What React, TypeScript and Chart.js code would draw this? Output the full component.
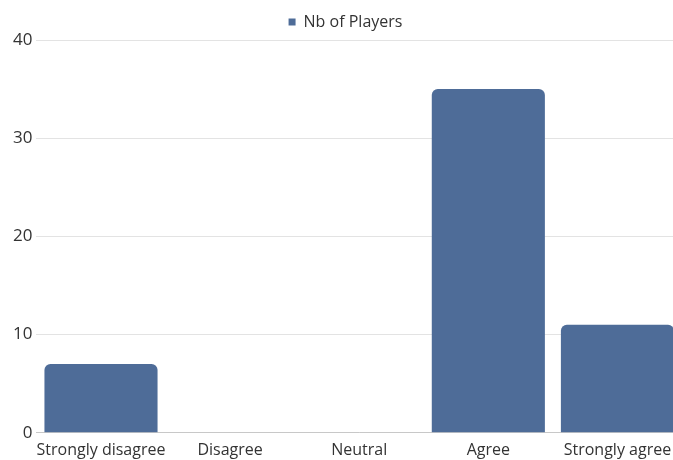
import React, { useEffect, useRef } from "react";
import { Chart, registerables } from "chart.js";

Chart.register(...registerables);

const categories = ["Strongly disagree", "Disagree", "Neutral", "Agree", "Strongly agree"];
const seriesName = "Nb of Players";
const players = [7, 0, 0, 35, 11];
const yTicks = [0, 10, 20, 30, 40];

export default function App() {
  const ref = useRef<HTMLCanvasElement | null>(null);

  useEffect(() => {
    document.body.style.margin = "0";
    document.body.style.overflow = "hidden";
    if (!ref.current) return;
    const font = "'Open Sans', sans-serif";
    const chart = new Chart(ref.current, {
      type: "bar",
      data: {
        labels: categories,
        datasets: [
          {
            label: seriesName,
            data: players,
            backgroundColor: "#4e6c98",
            borderRadius: { topLeft: 6, topRight: 6, bottomLeft: 0, bottomRight: 0 },
            borderSkipped: false,
            barPercentage: 0.876,
            categoryPercentage: 1,
          },
        ],
      },
      options: {
        animation: false,
        responsive: false,
        maintainAspectRatio: false,
        layout: { padding: { top: 4, left: 9, right: 20, bottom: -8 } },
        plugins: {
          legend: {
            position: "top",
            labels: {
              boxWidth: 7,
              boxHeight: 7,
              color: "#333333",
              font: { family: font, size: 16 },
              padding: 10,
            },
          },
          tooltip: { enabled: false },
        },
        scales: {
          x: {
            grid: { display: false, drawTicks: false },
            border: { color: "#c8c8c8" },
            ticks: {
              color: "#333333",
              font: { family: font, size: 16 },
              padding: 8,
              maxRotation: 0,
              autoSkip: false,
            },
          },
          y: {
            min: yTicks[0],
            max: yTicks[yTicks.length - 1],
            afterBuildTicks: (axis: any) => {
              axis.ticks = yTicks.map((v) => ({ value: v }));
            },
            grid: { color: "#e3e3e3", drawTicks: false },
            border: { display: false },
            ticks: { color: "#333333", font: { family: font, size: 17 }, padding: 4 },
          },
        },
      },
    });
    return () => chart.destroy();
  }, []);

  return (
    <div style={{ position: "fixed", left: 0, top: 0, width: 702, height: 460 }}>
      <canvas ref={ref} width={702} height={460} style={{ width: 702, height: 460 }} />
    </div>
  );
}
